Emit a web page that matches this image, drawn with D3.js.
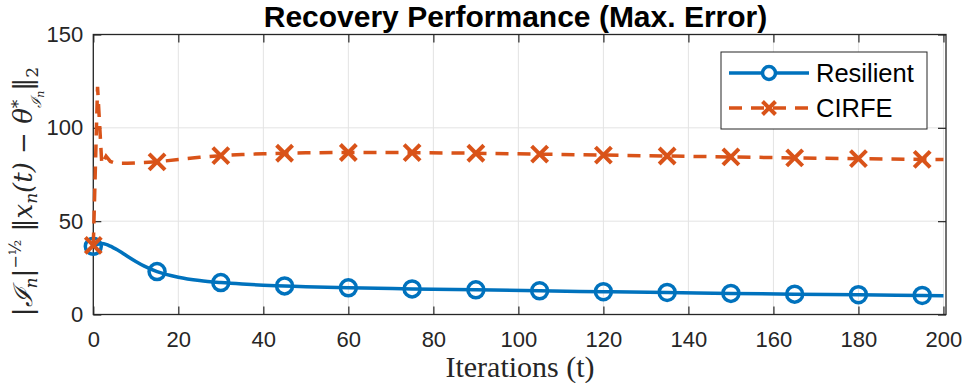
<!DOCTYPE html>
<html>
<head>
<meta charset="utf-8">
<script src="https://cdn.jsdelivr.net/npm/d3@7"></script>
<style>
  body { margin: 0; background: #fff; }
  svg { display: block; }
</style>
</head>
<body>
<svg id="chart"></svg>
<script>
// data
const iters = [0, 1, 2, 3, 4, 5, 6, 8, 10, 12, 15, 20, 25, 30, 35, 40, 45, 50, 60, 75, 90, 105, 120, 135, 150, 165, 180, 195, 200];
const resilient = [36.5, 37.6, 38, 37.6, 36.6, 35.4, 34.2, 31.2, 28.4, 25.9, 23.0, 20.0, 18.2, 17.1, 16.3, 15.7, 15.3, 14.9, 14.3, 13.7, 13.2, 12.7, 12.2, 11.8, 11.3, 10.9, 10.6, 10.2, 10.1];
const cirfe = [37, 122, 80.5, 84.8, 82, 81.2, 81, 81, 81.2, 81.4, 81.8, 83, 84.2, 85.1, 85.7, 86.1, 86.4, 86.6, 86.8, 86.7, 86.4, 85.9, 85.4, 84.9, 84.4, 83.9, 83.5, 83.1, 83.0];
const markerStep = 15;
const xTicks = [0, 20, 40, 60, 80, 100, 120, 140, 160, 180, 200];
const yTicks = [0, 50, 100, 150];
const seriesNames = ["Resilient", "CIRFE"];

const W = 962, H = 383;
const blue = "#0072BD", orange = "#D95319", axisCol = "#262626";
const sans = "'Liberation Sans', Arial, sans-serif";

const svg = d3.select("#chart").attr("width", W).attr("height", H);

// scales
const x = d3.scaleLinear().domain([0, 200.6]).range([93.3, 946]);
const y = d3.scaleLinear().domain([0, 150]).range([314.5, 34.5]);
const [x0, x1] = x.range();
const [y0, y1] = y.range();

// grid
const grid = svg.append("g");
grid.selectAll(".gx").data(xTicks).join("line")
  .attr("x1", d => x(d)).attr("x2", d => x(d))
  .attr("y1", y0).attr("y2", y1)
  .attr("stroke", "#e3e3e3").attr("stroke-width", 1);
grid.selectAll(".gy").data(yTicks).join("line")
  .attr("x1", x0).attr("x2", x1)
  .attr("y1", d => y(d)).attr("y2", d => y(d))
  .attr("stroke", "#e3e3e3").attr("stroke-width", 1);

// axes (ticks inward, box on)
const tickLen = 8;
const style = g => {
  g.select(".domain").remove();
  g.selectAll(".tick line").attr("stroke", axisCol).attr("stroke-width", 1.2);
  g.selectAll(".tick text").attr("fill", axisCol)
    .attr("font-family", sans).attr("font-size", 22);
};
svg.append("g").attr("transform", `translate(0,${y0})`)
  .call(d3.axisBottom(x).tickValues(xTicks).tickSize(-tickLen).tickPadding(17))
  .call(style);
svg.append("g").attr("transform", `translate(0,${y1})`)
  .call(d3.axisTop(x).tickValues(xTicks).tickSize(-tickLen).tickFormat(""))
  .call(style);
svg.append("g").attr("transform", `translate(${x0},0)`)
  .call(d3.axisLeft(y).tickValues(yTicks).tickSize(-tickLen).tickPadding(10))
  .call(style);
svg.append("g").attr("transform", `translate(${x1},0)`)
  .call(d3.axisRight(y).tickValues(yTicks).tickSize(-tickLen).tickFormat(""))
  .call(style);

svg.append("rect")
  .attr("x", x0).attr("y", y1).attr("width", x1 - x0).attr("height", y0 - y1)
  .attr("fill", "none").attr("stroke", axisCol).attr("stroke-width", 1.3);

// series
const rows = iters.map((t, i) => ({ t, r: resilient[i], c: cirfe[i] }));
const marks = rows.filter(d => d.t % markerStep === 0 && d.t < 200);

const lineR = d3.line().x(d => x(d.t)).y(d => y(d.r)).curve(d3.curveMonotoneX);
const lineC = d3.line().x(d => x(d.t)).y(d => y(d.c));

svg.append("path").datum(rows).attr("d", lineR)
  .attr("fill", "none").attr("stroke", blue).attr("stroke-width", 3.5);
svg.selectAll(".mr").data(marks).join("circle")
  .attr("cx", d => x(d.t)).attr("cy", d => y(d.r)).attr("r", 8)
  .attr("fill", "none").attr("stroke", blue).attr("stroke-width", 3.5);

svg.append("path").datum(rows).attr("d", lineC)
  .attr("fill", "none").attr("stroke", orange).attr("stroke-width", 3.5)
  .attr("stroke-dasharray", "13 9");

const cross = (g, cx, cy, s) => {
  g.append("path")
    .attr("d", `M${cx - s},${cy - s}L${cx + s},${cy + s}M${cx - s},${cy + s}L${cx + s},${cy - s}`)
    .attr("stroke", orange).attr("stroke-width", 4).attr("fill", "none");
};
const xm = svg.append("g");
marks.forEach(d => cross(xm, x(d.t), y(d.c), 8));

// legend
const lg = svg.append("g");
lg.append("rect").attr("x", 721).attr("y", 52).attr("width", 206).attr("height", 77)
  .attr("fill", "#fff").attr("stroke", axisCol).attr("stroke-width", 1);
const ly = [73, 108];
lg.append("line").attr("x1", 729).attr("x2", 809).attr("y1", ly[0]).attr("y2", ly[0])
  .attr("stroke", blue).attr("stroke-width", 3.5);
lg.append("circle").attr("cx", 769).attr("cy", ly[0]).attr("r", 6.5)
  .attr("fill", "#fff").attr("stroke", blue).attr("stroke-width", 3.5);
lg.append("line").attr("x1", 729).attr("x2", 809).attr("y1", ly[1]).attr("y2", ly[1])
  .attr("stroke", orange).attr("stroke-width", 3.5).attr("stroke-dasharray", "13 9");
cross(lg, 769, ly[1], 6.5);
lg.selectAll(".lt").data(seriesNames).join("text")
  .attr("x", 816).attr("y", (d, i) => ly[i] + 9)
  .attr("font-family", sans).attr("font-size", 25.5)
  .attr("fill", "#000").text(d => d);

// title
svg.append("text").attr("x", 515.5).attr("y", 27).attr("text-anchor", "middle")
  .attr("font-family", sans).attr("font-weight", "bold")
  .attr("font-size", 30).attr("fill", "#000").text("Recovery Performance (Max. Error)");

// x label
svg.append("text").attr("x", 520).attr("y", 377).attr("text-anchor", "middle")
  .attr("font-family", "'Liberation Serif', 'Times New Roman', serif")
  .attr("font-size", 30).attr("fill", axisCol).text("Iterations (t)");

// y label (math)
const yl = svg.append("text")
  .attr("transform", `translate(32,${(y0 + y1) / 2 + 17}) rotate(-90)`)
  .attr("text-anchor", "middle")
  .attr("font-family", "'DejaVu Serif', 'Liberation Serif', serif")
  .attr("font-size", 26).attr("fill", axisCol);
const parts = [
  ["|", 0, "normal", 26],
  ["ℐ", 0, "italic", 26],
  ["n", 5, "italic", 17],
  ["|", -5, "normal", 26],
  ["−½", -11, "normal", 16],
  [" ‖", 11, "normal", 26],
  ["x", 0, "italic", 26],
  ["n", 5, "italic", 17],
  ["(t) − θ", -5, "italic", 26],
  ["*", -8, "normal", 17],
  ["ℐ", 17, "italic", 14],
  ["n", 3, "italic", 11],
  ["‖", -12, "normal", 26],
  ["2", 6, "normal", 17]
];
parts.forEach(([s, dy, fs, sz], i) => {
  const ts = yl.append("tspan").attr("dy", dy).attr("font-style", fs).attr("font-size", sz).text(s);
  if (i === 10) ts.attr("dx", -8);
});
</script>
</body>
</html>
